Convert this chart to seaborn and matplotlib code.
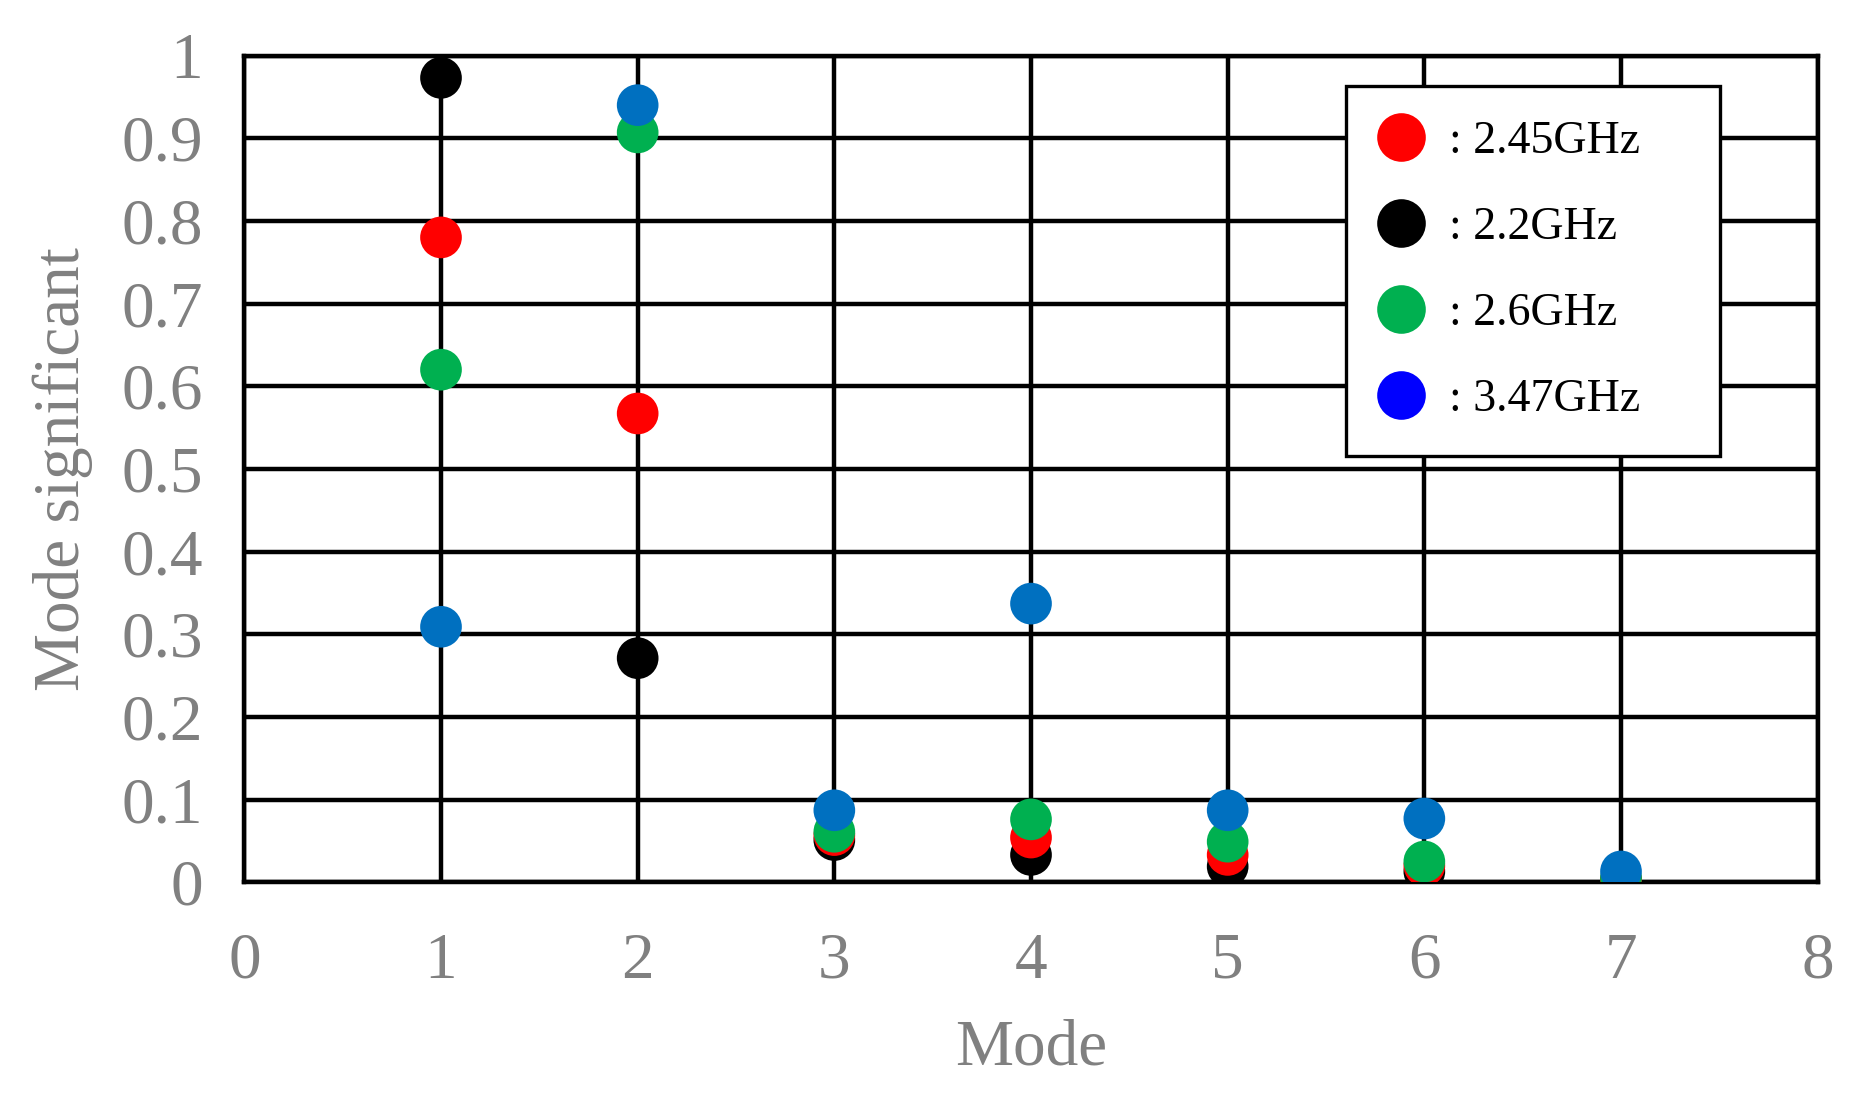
import matplotlib
matplotlib.use("Agg")
import matplotlib.pyplot as plt
from matplotlib.lines import Line2D
import seaborn as sns
import numpy as np
import pandas as pd

# valores
modes = [1, 2, 3, 4, 5, 6, 7]
freqs = ["2.2GHz", "2.45GHz", "2.6GHz", "3.47GHz"]   # ordem de desenho (azul por cima)
ms_22 = [0.973, 0.271, 0.051, 0.033, 0.019, 0.013, 0.002]
ms_245 = [0.780, 0.567, 0.057, 0.054, 0.033, 0.020, 0.003]
ms_26 = [0.620, 0.907, 0.061, 0.076, 0.049, 0.025, 0.005]
ms_347 = [0.309, 0.940, 0.087, 0.337, 0.087, 0.077, 0.013]

point_colors = {"2.2GHz": "#000000", "2.45GHz": "#FF0000",
                "2.6GHz": "#00B050", "3.47GHz": "#0070C0"}
legend_order = ["2.45GHz", "2.2GHz", "2.6GHz", "3.47GHz"]
legend_colors = {"2.45GHz": "#FF0000", "2.2GHz": "#000000",
                 "2.6GHz": "#00B050", "3.47GHz": "#0000FF"}

df = pd.DataFrame({
    "Mode": modes * 4,
    "MS": ms_22 + ms_245 + ms_26 + ms_347,
    "freq": np.repeat(freqs, len(modes)),
})

sns.set_theme(style="white")
plt.rcParams["font.family"] = ["Liberation Serif", "DejaVu Serif"]

fig = plt.figure(figsize=(18.51, 11.0), dpi=100)
ax = fig.add_axes([0.132, 0.198, 0.85, 0.7515])

sns.scatterplot(data=df, x="Mode", y="MS", hue="freq", palette=point_colors,
                s=900, linewidth=0, legend=False, ax=ax, zorder=3)

ax.set_xlim(0, 8)
ax.set_ylim(0, 1)
ax.set_xticks(range(0, 9))
ax.set_yticks(np.arange(0, 1.01, 0.1))
ax.set_yticklabels(["0"] + [f"{v:.1f}" for v in np.arange(0.1, 0.95, 0.1)] + ["1"])
ax.grid(True, color="black", linewidth=3.2)
ax.set_axisbelow(True)
for sp in ax.spines.values():
    sp.set_color("black")
    sp.set_linewidth(3.2)

gray = "#808080"
ax.tick_params(axis="both", length=0, labelsize=47, labelcolor=gray)
ax.tick_params(axis="y", pad=30)
ax.tick_params(axis="x", pad=36)
ax.set_xlabel("Mode", fontsize=47, color=gray, labelpad=20)
ax.set_ylabel("Mode significant", fontsize=47, color=gray, labelpad=20)

# legenda feita à mão (o azul da legenda é diferente do azul dos pontos)
handles = [Line2D([], [], marker="o", linestyle="", markersize=35,
                  markerfacecolor=legend_colors[f], markeredgewidth=0,
                  label=": " + f + "    ") for f in legend_order]
leg = ax.legend(handles=handles, loc="upper left", bbox_to_anchor=(0.70, 0.963),
                fontsize=33, frameon=True, fancybox=False, borderpad=0.75,
                labelspacing=0.95, handletextpad=0.6, handlelength=0.9,
                borderaxespad=0, framealpha=1)
leg.get_frame().set_edgecolor("black")
leg.get_frame().set_linewidth(2.4)
for t in leg.get_texts():
    t.set_color("black")

plt.savefig("out.png", dpi=100)
